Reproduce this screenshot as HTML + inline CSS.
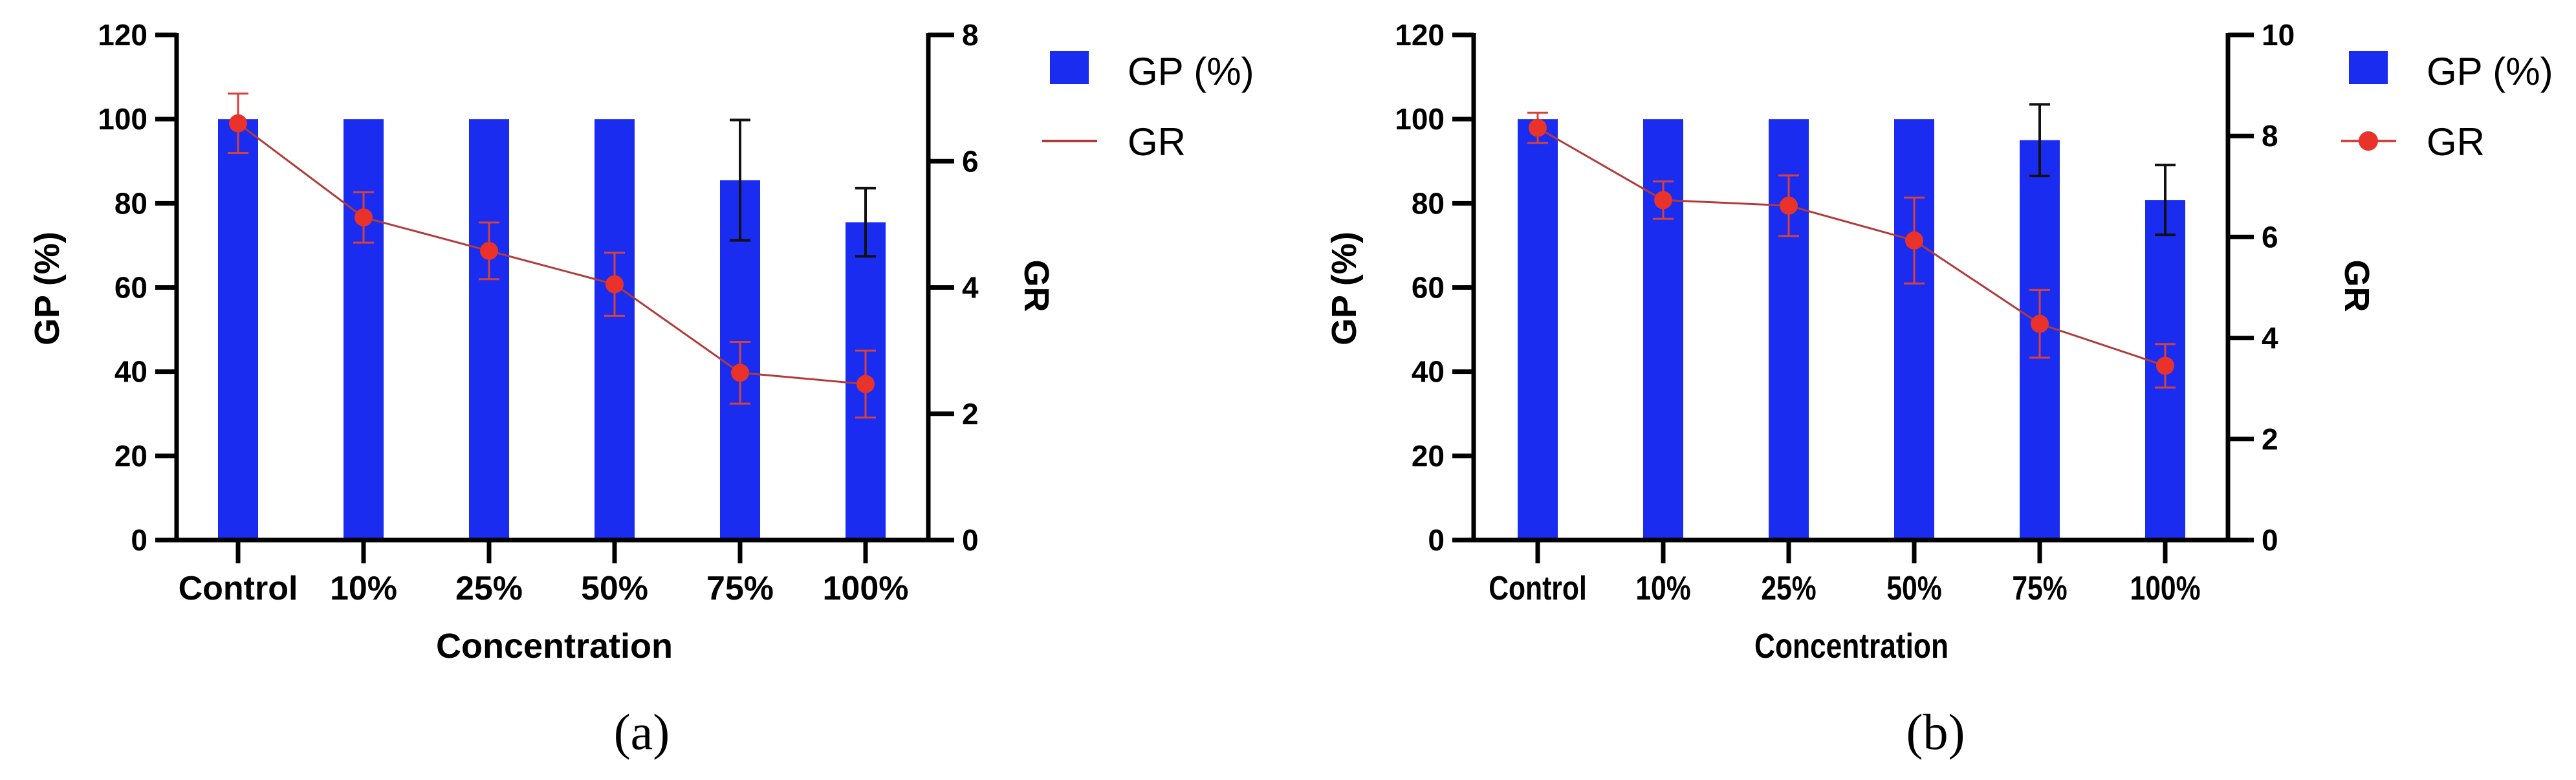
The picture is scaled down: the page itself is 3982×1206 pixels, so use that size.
<!DOCTYPE html>
<html><head><meta charset="utf-8"><style>
html,body{margin:0;padding:0;background:#fff;}
svg{display:block;}
text{font-family:"Liberation Sans",Arial,sans-serif;}
</style></head><body>
<svg id="fig" width="3982" height="1206" viewBox="0 0 3982 1206" xmlns="http://www.w3.org/2000/svg"></svg>
<script>
const categories = ["Control","10%","25%","50%","75%","100%"];
const gpTicks = [0,20,40,60,80,100,120];
const grTicksA = [0,2,4,6,8];
const grTicksB = [0,2,4,6,8,10];
const gpA = [100,100,100,100,85.5,75.5];
const gpErrA = [0,0,0,0,14.3,8.1];
const grA = [6.6,5.11,4.58,4.05,2.65,2.47];
const grErrA = [0.47,0.4,0.45,0.5,0.49,0.53];
const gpB = [100,100,100,100,95,80.8];
const gpErrB = [0,0,0,0,8.5,8.3];
const grB = [8.16,6.73,6.62,5.93,4.28,3.45];
const grErrB = [0.3,0.37,0.6,0.85,0.67,0.43];

const NS="http://www.w3.org/2000/svg";
const svg=document.getElementById('fig');
function mk(tag,attrs,parent){const e=document.createElementNS(NS,tag);for(const k in attrs)e.setAttribute(k,attrs[k]);(parent||svg).appendChild(e);return e;}

function chart(cfg){
  const g=mk('g',{});
  
  
  const y0=835,yTop=54;
  const yGP=v=>y0-(v/120)*(y0-yTop);
  const yGR=v=>y0-(v/cfg.grMax)*(y0-yTop);
  const xC=i=>cfg.x0+i*cfg.step;
  const sx=cfg.condensed?' scale(0.82,1)':'';
  categories.forEach((c,i)=>{
    const r=mk('rect',{x:xC(i)-31,y:yGP(cfg.gp[i]),width:62,height:y0-yGP(cfg.gp[i]),fill:'#1a2cf0'},g);
    
    
    if(cfg.gpErr[i]>0){
      const e=mk('g',{stroke:'#111','stroke-width':4},g);
      
      
      const t=yGP(cfg.gp[i]+cfg.gpErr[i]),b=yGP(cfg.gp[i]-cfg.gpErr[i]);
      mk('line',{x1:xC(i),x2:xC(i),y1:t,y2:b},e);
      mk('line',{x1:xC(i)-16,x2:xC(i)+16,y1:t,y2:t},e);
      mk('line',{x1:xC(i)-16,x2:xC(i)+16,y1:b,y2:b},e);
    }
  });
  const pts=categories.map((c,i)=>xC(i)+','+yGR(cfg.gr[i])).join(' ');
  const pl=mk('polyline',{points:pts,fill:'none',stroke:'#b23a3a','stroke-width':3},g);
  
  
  categories.forEach((c,i)=>{
    const e=mk('g',{stroke:'#d8413a','stroke-width':3},g);
    
    
    const t=yGR(cfg.gr[i]+cfg.grErr[i]),b=yGR(cfg.gr[i]-cfg.grErr[i]);
    mk('line',{x1:xC(i),x2:xC(i),y1:t,y2:b},e);
    mk('line',{x1:xC(i)-16,x2:xC(i)+16,y1:t,y2:t},e);
    mk('line',{x1:xC(i)-16,x2:xC(i)+16,y1:b,y2:b},e);
    const d=mk('circle',{cx:xC(i),cy:yGR(cfg.gr[i]),r:14,fill:'#e8322a'},g);
    
    
  });
  const ax=mk('g',{stroke:'#000','stroke-width':7,fill:'none'},g);
  
  
  mk('line',{x1:cfg.axL,x2:cfg.axL,y1:yTop-3,y2:y0+3},ax);
  mk('line',{x1:cfg.axR,x2:cfg.axR,y1:yTop-3,y2:y0+3},ax);
  mk('line',{x1:cfg.axL-33,x2:cfg.axR+40,y1:y0,y2:y0},ax);
  gpTicks.forEach(v=>{
    mk('line',{x1:cfg.axL-33,x2:cfg.axL,y1:yGP(v),y2:yGP(v)},ax);
    const t=mk('text',{x:cfg.axL-45,y:yGP(v)+16,'text-anchor':'end','font-size':46,'font-weight':'bold'},g);
    t.textContent=v;
    
    
  });
  cfg.grTicks.forEach(v=>{
    mk('line',{x1:cfg.axR,x2:cfg.axR+40,y1:yGR(v),y2:yGR(v)},ax);
    const t=mk('text',{x:cfg.axR+52,y:yGR(v)+16,'font-size':46,'font-weight':'bold'},g);
    t.textContent=v;
    
    
  });
  categories.forEach((c,i)=>{
    mk('line',{x1:xC(i),x2:xC(i),y1:y0,y2:y0+36},ax);
    const t=mk('text',{'text-anchor':'middle','font-size':52,'font-weight':'bold',transform:'translate('+xC(i)+',927)'+sx},g);
    t.textContent=c;
    
    
  });
  const xt=mk('text',{'text-anchor':'middle','font-size':54,'font-weight':'bold',transform:'translate('+cfg.ctr+',1017)'+sx},g);
  xt.textContent='Concentration';
  
  
  const yl=mk('text',{'text-anchor':'middle','font-size':54,'font-weight':'bold',transform:'translate('+(cfg.axL-182)+',446) rotate(-90)'},g);
  yl.textContent='GP (%)';
  
  
  const yr=mk('text',{'text-anchor':'middle','font-size':54,'font-weight':'bold',transform:'translate('+(cfg.grTitleX-19)+',442) rotate(90)'},g);
  yr.textContent='GR';
  
  
  const lg=mk('g',{},g);
  
  
  mk('rect',{x:cfg.lgX,y:79,width:60,height:51,fill:'#1a2cf0'},lg);
  const l1=mk('text',{x:cfg.lgX+120,y:131,'font-size':60},lg);
  l1.textContent='GP (%)';
  
  
  mk('line',{x1:cfg.lgX-12,x2:cfg.lgX+73,y1:218,y2:218,stroke:cfg.legendDot?'#d8413a':'#b23a3a','stroke-width':4},lg);
  if(cfg.legendDot) mk('circle',{cx:cfg.lgX+30,cy:218,r:15,fill:'#e8322a'},lg);
  const l2=mk('text',{x:cfg.lgX+120,y:240,'font-size':60},lg);
  l2.textContent='GR';
  
  
  const cap=mk('text',{x:cfg.capX,y:1158,'text-anchor':'middle','font-size':78,style:'font-family:"Liberation Serif",serif'},g);
  cap.textContent=cfg.cap;
  
  
}

chart({name:'chart-a',x0:368,step:194,axL:273,axR:1435,grMax:8,grTicks:grTicksA,gp:gpA,gpErr:gpErrA,gr:grA,grErr:grErrA,ctr:857,lgX:1623,legendDot:false,capX:992,cap:'(a)',condensed:false,grTitleX:1603});
chart({name:'chart-b',x0:2377,step:194,axL:2278,axR:3444,grMax:10,grTicks:grTicksB,gp:gpB,gpErr:gpErrB,gr:grB,grErr:grErrB,ctr:2862,lgX:3631,legendDot:true,capX:2992,cap:'(b)',condensed:true,grTitleX:3644});
</script>
</body></html>
